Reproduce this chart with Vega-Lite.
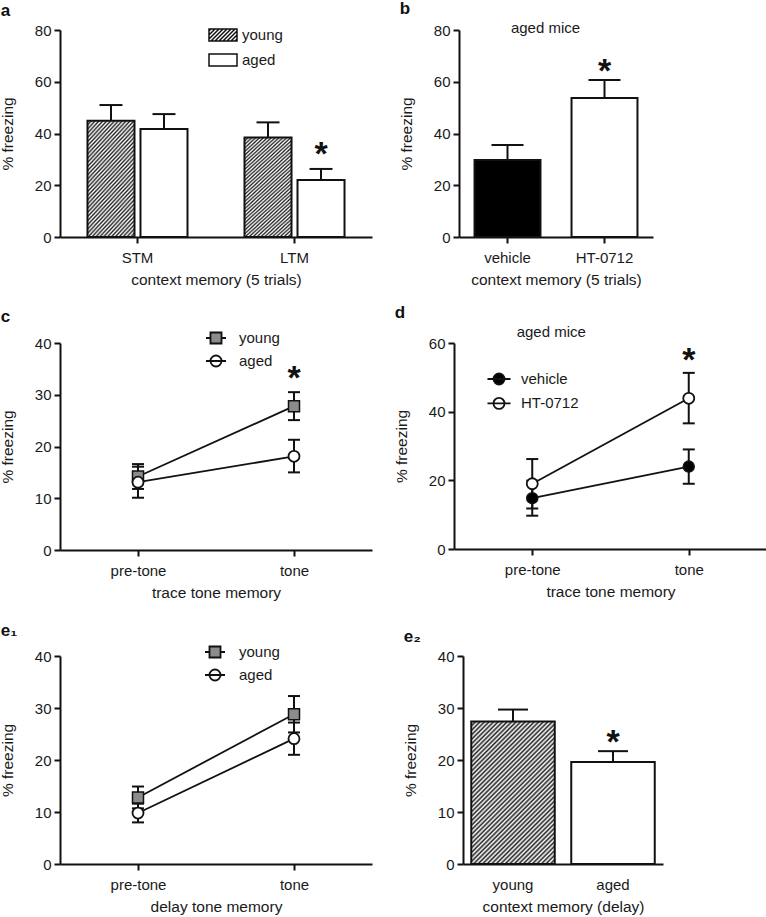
{
 "$schema": "https://vega.github.io/schema/vega-lite/v6.json",
 "padding": 0,
 "background": "white",
 "config": {
  "font": "Liberation Sans",
  "view": {"stroke": null},
  "axis": {"grid": false, "domainColor": "#111", "domainWidth": 2, "tickColor": "#111", "tickWidth": 2, "tickSize": 6, "labelFontSize": 15, "labelColor": "#1a1a1a", "titleFontSize": 15.5, "titleFontWeight": "normal", "titleColor": "#1a1a1a", "labelPadding": 3, "titlePadding": 8},
  "axisX": {"labelAngle": 0, "labelPadding": 7, "titlePadding": 7},
  "axisY": {"titlePadding": 18.5},
  "title": {"fontSize": 17, "fontWeight": "bold", "anchor": "start", "frame": "bounds", "color": "#111", "offset": 3},
  "legend": {"orient": "none", "title": null, "padding": 0, "labelFontSize": 15, "labelColor": "#1a1a1a", "symbolStrokeColor": "#111", "symbolStrokeWidth": 1.8, "symbolSize": 256, "symbolOpacity": 1, "labelLimit": 0}
 },
 "datasets": {
  "ctx5": [
   {"memory": "STM", "group": "young", "mean": 44.9, "hi": 51.0, "sig": ""},
   {"memory": "STM", "group": "aged", "mean": 41.7, "hi": 47.5, "sig": ""},
   {"memory": "LTM", "group": "young", "mean": 38.5, "hi": 44.3, "sig": ""},
   {"memory": "LTM", "group": "aged", "mean": 22.0, "hi": 26.3, "sig": "*"}
  ],
  "ctxDrug": [
   {"treatment": "vehicle", "mean": 29.8, "hi": 35.6, "sig": ""},
   {"treatment": "HT-0712", "mean": 53.7, "hi": 60.7, "sig": "*"}
  ],
  "traceAge": [
   {"phase": "pre-tone", "group": "young", "mean": 14.2, "lo": 11.8, "hi": 16.6, "sig": ""},
   {"phase": "pre-tone", "group": "aged", "mean": 13.1, "lo": 10.1, "hi": 16.1, "sig": ""},
   {"phase": "tone", "group": "young", "mean": 27.8, "lo": 25.1, "hi": 30.5, "sig": "*"},
   {"phase": "tone", "group": "aged", "mean": 18.1, "lo": 15.0, "hi": 21.3, "sig": ""}
  ],
  "traceDrug": [
   {"phase": "pre-tone", "treatment": "vehicle", "mean": 14.8, "lo": 9.7, "hi": 19.9, "sig": ""},
   {"phase": "pre-tone", "treatment": "HT-0712", "mean": 19.0, "lo": 11.8, "hi": 26.2, "sig": ""},
   {"phase": "tone", "treatment": "vehicle", "mean": 24.0, "lo": 19.0, "hi": 29.0, "sig": ""},
   {"phase": "tone", "treatment": "HT-0712", "mean": 43.9, "lo": 36.6, "hi": 51.3, "sig": "*"}
  ],
  "delayAge": [
   {"phase": "pre-tone", "group": "young", "mean": 12.8, "lo": 10.7, "hi": 14.9},
   {"phase": "pre-tone", "group": "aged", "mean": 9.8, "lo": 8.0, "hi": 11.6},
   {"phase": "tone", "group": "young", "mean": 28.8, "lo": 25.3, "hi": 32.3},
   {"phase": "tone", "group": "aged", "mean": 24.1, "lo": 21.0, "hi": 27.2}
  ],
  "ctxDelay": [
   {"group": "young", "mean": 27.4, "hi": 29.7, "sig": ""},
   {"group": "aged", "mean": 19.6, "hi": 21.7, "sig": "*"}
  ]
 },
 "spacing": 16,
 "resolve": {"scale": {"fill": "independent", "shape": "independent", "stroke": "independent"}, "legend": {"fill": "independent", "shape": "independent", "stroke": "independent"}},
 "vconcat": [
  {
   "spacing": 27,
   "resolve": {"scale": {"fill": "independent", "shape": "independent", "stroke": "independent"}, "legend": {"fill": "independent", "shape": "independent", "stroke": "independent"}},
   "hconcat": [
    {
     "title": "a",
     "width": 312, "height": 207,
     "data": {"name": "ctx5"},
     "encoding": {
      "x": {"field": "memory", "type": "nominal", "sort": ["STM", "LTM"], "scale": {"paddingInner": 0.363, "paddingOuter": 0.175}, "axis": {"title": "context memory (5 trials)"}},
      "xOffset": {"field": "group", "type": "nominal", "sort": ["young", "aged"], "scale": {"domain": ["young", "aged"], "paddingInner": 0.113, "paddingOuter": 0}}
     },
     "layer": [
      {"mark": {"type": "rule", "color": "#111", "strokeWidth": 2}, "encoding": {"y": {"field": "mean", "type": "quantitative", "scale": {"domain": [0, 80], "nice": false}, "axis": {"values": [0, 20, 40, 60, 80], "title": "% freezing"}}, "y2": {"field": "hi"}}},
      {"mark": {"type": "tick", "color": "#111", "thickness": 2, "size": 23, "opacity": 1}, "encoding": {"y": {"field": "hi", "type": "quantitative", "axis": {"title": "% freezing"}}}},
      {"transform": [{"filter": "datum.group === 'aged'"}], "mark": {"type": "bar", "fill": "white", "stroke": "#111", "strokeWidth": 2, "opacity": 1}, "encoding": {"y": {"field": "mean", "type": "quantitative", "axis": {"title": "% freezing"}}}},
      {"transform": [{"filter": "datum.group === 'young'"}], "mark": {"type": "bar", "stroke": "#111", "strokeWidth": 2, "opacity": 1,
        "fill": {"gradient": "linear", "x1": 0, "y1": 0, "x2": 0.525, "y2": 1.207, "stops": [
         {"offset": 0, "color": "#222"}, {"offset": 0.0125, "color": "#fff"}, {"offset": 0.025, "color": "#222"}, {"offset": 0.0375, "color": "#fff"}, {"offset": 0.05, "color": "#222"}, {"offset": 0.0625, "color": "#fff"}, {"offset": 0.075, "color": "#222"}, {"offset": 0.0875, "color": "#fff"},
         {"offset": 0.1, "color": "#222"}, {"offset": 0.1125, "color": "#fff"}, {"offset": 0.125, "color": "#222"}, {"offset": 0.1375, "color": "#fff"}, {"offset": 0.15, "color": "#222"}, {"offset": 0.1625, "color": "#fff"}, {"offset": 0.175, "color": "#222"}, {"offset": 0.1875, "color": "#fff"},
         {"offset": 0.2, "color": "#222"}, {"offset": 0.2125, "color": "#fff"}, {"offset": 0.225, "color": "#222"}, {"offset": 0.2375, "color": "#fff"}, {"offset": 0.25, "color": "#222"}, {"offset": 0.2625, "color": "#fff"}, {"offset": 0.275, "color": "#222"}, {"offset": 0.2875, "color": "#fff"},
         {"offset": 0.3, "color": "#222"}, {"offset": 0.3125, "color": "#fff"}, {"offset": 0.325, "color": "#222"}, {"offset": 0.3375, "color": "#fff"}, {"offset": 0.35, "color": "#222"}, {"offset": 0.3625, "color": "#fff"}, {"offset": 0.375, "color": "#222"}, {"offset": 0.3875, "color": "#fff"},
         {"offset": 0.4, "color": "#222"}, {"offset": 0.4125, "color": "#fff"}, {"offset": 0.425, "color": "#222"}, {"offset": 0.4375, "color": "#fff"}, {"offset": 0.45, "color": "#222"}, {"offset": 0.4625, "color": "#fff"}, {"offset": 0.475, "color": "#222"}, {"offset": 0.4875, "color": "#fff"},
         {"offset": 0.5, "color": "#222"}, {"offset": 0.5125, "color": "#fff"}, {"offset": 0.525, "color": "#222"}, {"offset": 0.5375, "color": "#fff"}, {"offset": 0.55, "color": "#222"}, {"offset": 0.5625, "color": "#fff"}, {"offset": 0.575, "color": "#222"}, {"offset": 0.5875, "color": "#fff"},
         {"offset": 0.6, "color": "#222"}, {"offset": 0.6125, "color": "#fff"}, {"offset": 0.625, "color": "#222"}, {"offset": 0.6375, "color": "#fff"}, {"offset": 0.65, "color": "#222"}, {"offset": 0.6625, "color": "#fff"}, {"offset": 0.675, "color": "#222"}, {"offset": 0.6875, "color": "#fff"},
         {"offset": 0.7, "color": "#222"}, {"offset": 0.7125, "color": "#fff"}, {"offset": 0.725, "color": "#222"}, {"offset": 0.7375, "color": "#fff"}, {"offset": 0.75, "color": "#222"}, {"offset": 0.7625, "color": "#fff"}, {"offset": 0.775, "color": "#222"}, {"offset": 0.7875, "color": "#fff"},
         {"offset": 0.8, "color": "#222"}, {"offset": 0.8125, "color": "#fff"}, {"offset": 0.825, "color": "#222"}, {"offset": 0.8375, "color": "#fff"}, {"offset": 0.85, "color": "#222"}, {"offset": 0.8625, "color": "#fff"}, {"offset": 0.875, "color": "#222"}, {"offset": 0.8875, "color": "#fff"},
         {"offset": 0.9, "color": "#222"}, {"offset": 0.9125, "color": "#fff"}, {"offset": 0.925, "color": "#222"}, {"offset": 0.9375, "color": "#fff"}, {"offset": 0.95, "color": "#222"}, {"offset": 0.9625, "color": "#fff"}, {"offset": 0.975, "color": "#222"}, {"offset": 0.9875, "color": "#fff"},
         {"offset": 1, "color": "#222"}]}},
       "encoding": {"y": {"field": "mean", "type": "quantitative", "axis": {"title": "% freezing"}}}},
      {"transform": [{"filter": "datum.sig === '*'"}], "mark": {"type": "text", "fontSize": 34, "fontWeight": "bold", "baseline": "alphabetic", "dy": -3.7, "color": "#111"}, "encoding": {"y": {"field": "hi", "type": "quantitative", "axis": {"title": "% freezing"}}, "text": {"field": "sig"}}},
      {"transform": [{"filter": "false"}], "mark": {"type": "point", "filled": true, "fill": "white", "opacity": 1, "strokeWidth": 1.5, "size": 256},
       "encoding": {
        "shape": {"field": "group", "type": "nominal", "scale": {"domain": ["young", "aged"], "range": [
         "M-1.75,-0.75H1.75V0.75H-1.75ZM-1.75,-0.5L-1.5,-0.75M-1.75,0L-1,-0.75M-1.75,0.5L-0.5,-0.75M-1.5,0.75L0,-0.75M-1,0.75L0.5,-0.75M-0.5,0.75L1,-0.75M0,0.75L1.5,-0.75M0.5,0.75L1.75,-0.5M1,0.75L1.75,0M1.5,0.75L1.75,0.5",
         "M-1.75,-0.75H1.75V0.75H-1.75Z"]},
         "legend": {"legendX": 154, "legendY": -4, "rowPadding": 7, "labelOffset": 10, "symbolStrokeWidth": 1.5, "symbolFillColor": "white"}},
        "stroke": {"field": "group", "type": "nominal", "scale": {"domain": ["young", "aged"], "range": ["#111", "#111"]},
         "legend": {"legendX": 154, "legendY": -4, "rowPadding": 7, "labelOffset": 10, "symbolStrokeWidth": 1.5, "symbolFillColor": "white"}}}}
     ]
    },
    {
     "title": "b",
     "width": 194, "height": 207,
     "data": {"name": "ctxDrug"},
     "encoding": {
      "x": {"field": "treatment", "type": "nominal", "sort": ["vehicle", "HT-0712"], "scale": {"paddingInner": 0.32, "paddingOuter": 0.16}, "axis": {"title": "context memory (5 trials)"}}
     },
     "layer": [
      {"mark": {"type": "rule", "color": "#111", "strokeWidth": 2}, "encoding": {"y": {"field": "mean", "type": "quantitative", "scale": {"domain": [0, 80], "nice": false}, "axis": {"values": [0, 20, 40, 60, 80], "title": "% freezing"}}, "y2": {"field": "hi"}}},
      {"mark": {"type": "tick", "color": "#111", "thickness": 2, "size": 32, "opacity": 1}, "encoding": {"y": {"field": "hi", "type": "quantitative", "axis": {"title": "% freezing"}}}},
      {"transform": [{"filter": "datum.treatment === 'vehicle'"}], "mark": {"type": "bar", "fill": "#000", "stroke": "#111", "strokeWidth": 2, "opacity": 1}, "encoding": {"y": {"field": "mean", "type": "quantitative", "axis": {"title": "% freezing"}}}},
      {"transform": [{"filter": "datum.treatment === 'HT-0712'"}], "mark": {"type": "bar", "fill": "white", "stroke": "#111", "strokeWidth": 2, "opacity": 1}, "encoding": {"y": {"field": "mean", "type": "quantitative", "axis": {"title": "% freezing"}}}},
      {"transform": [{"filter": "datum.sig === '*'"}], "mark": {"type": "text", "fontSize": 34, "fontWeight": "bold", "baseline": "alphabetic", "dy": 1.7, "color": "#111"}, "encoding": {"y": {"field": "hi", "type": "quantitative", "axis": {"title": "% freezing"}}, "text": {"field": "sig"}}},
      {"data": {"values": [{}]}, "mark": {"type": "text", "text": "aged mice", "fontSize": 15, "baseline": "middle", "dx": 38, "dy": -2, "color": "#1a1a1a"}, "encoding": {"x": {"datum": "vehicle"}, "y": {"datum": 80}}}
     ]
    }
   ]
  },
  {
   "spacing": 21,
   "resolve": {"scale": {"fill": "independent", "shape": "independent", "stroke": "independent"}, "legend": {"fill": "independent", "shape": "independent", "stroke": "independent"}},
   "vconcat": [
    {
     "spacing": 22,
     "resolve": {"scale": {"fill": "independent", "shape": "independent", "stroke": "independent"}, "legend": {"fill": "independent", "shape": "independent", "stroke": "independent"}},
     "hconcat": [
      {
       "title": "c",
       "width": 312, "height": 207,
       "data": {"name": "traceAge"},
       "encoding": {
        "x": {"field": "phase", "type": "nominal", "scale": {"type": "point", "padding": 0.5, "domain": ["pre-tone", "tone"]}, "axis": {"title": "trace tone memory"}}
       },
       "layer": [
        {"mark": {"type": "rule", "color": "#111", "strokeWidth": 2}, "encoding": {"y": {"field": "lo", "type": "quantitative", "scale": {"domain": [0, 40], "nice": false}, "axis": {"values": [0, 10, 20, 30, 40], "title": "% freezing"}}, "y2": {"field": "hi"}}},
        {"mark": {"type": "tick", "color": "#111", "thickness": 2, "size": 12, "opacity": 1}, "encoding": {"y": {"field": "lo", "type": "quantitative", "axis": {"title": "% freezing"}}}},
        {"mark": {"type": "tick", "color": "#111", "thickness": 2, "size": 12, "opacity": 1}, "encoding": {"y": {"field": "hi", "type": "quantitative", "axis": {"title": "% freezing"}}}},
        {"mark": {"type": "line", "color": "#111", "strokeWidth": 1.8}, "encoding": {"y": {"field": "mean", "type": "quantitative", "axis": {"title": "% freezing"}}, "detail": {"field": "group"}}},
        {"transform": [{"filter": "datum.group === 'young'"}], "mark": {"type": "point", "shape": "square", "filled": true, "fill": "#8c8c8c", "stroke": "#111", "strokeWidth": 1.5, "size": 121, "opacity": 1}, "encoding": {"y": {"field": "mean", "type": "quantitative", "axis": {"title": "% freezing"}}}},
        {"transform": [{"filter": "datum.group === 'aged'"}], "mark": {"type": "point", "shape": "circle", "filled": true, "fill": "white", "stroke": "#111", "strokeWidth": 1.8, "size": 121, "opacity": 1}, "encoding": {"y": {"field": "mean", "type": "quantitative", "axis": {"title": "% freezing"}}}},
        {"transform": [{"filter": "datum.sig === '*'"}], "mark": {"type": "text", "fontSize": 34, "fontWeight": "bold", "baseline": "alphabetic", "dy": -3, "color": "#111"}, "encoding": {"y": {"field": "hi", "type": "quantitative", "axis": {"title": "% freezing"}}, "text": {"field": "sig"}}},
        {"transform": [{"filter": "false"}], "mark": {"type": "point", "filled": true, "opacity": 1, "strokeWidth": 1.8, "size": 256},
         "encoding": {
          "fill": {"field": "group", "type": "nominal", "scale": {"domain": ["young", "aged"], "range": ["#8c8c8c", "white"]}, "legend": {"legendX": 147, "legendY": -14, "rowPadding": 3, "labelOffset": 14}},
          "stroke": {"field": "group", "type": "nominal", "scale": {"domain": ["young", "aged"], "range": ["#111", "#111"]}, "legend": {"legendX": 147, "legendY": -14, "rowPadding": 3, "labelOffset": 14}},
          "shape": {"field": "group", "type": "nominal", "scale": {"domain": ["young", "aged"], "range": ["M-1.25,0H-0.69M0.69,0H1.25M-0.69,-0.69H0.69V0.69H-0.69Z", "M-1.25,0H1.25M-0.69,0A0.69,0.69,0,1,0,0.69,0A0.69,0.69,0,1,0,-0.69,0Z"]}, "legend": {"legendX": 147, "legendY": -14, "rowPadding": 3, "labelOffset": 14}}}}
       ]
      },
      {
       "title": "d",
       "width": 313, "height": 206,
       "data": {"name": "traceDrug"},
       "encoding": {
        "x": {"field": "phase", "type": "nominal", "scale": {"type": "point", "padding": 0.5, "domain": ["pre-tone", "tone"]}, "axis": {"title": "trace tone memory"}}
       },
       "layer": [
        {"mark": {"type": "rule", "color": "#111", "strokeWidth": 2}, "encoding": {"y": {"field": "lo", "type": "quantitative", "scale": {"domain": [0, 60], "nice": false}, "axis": {"values": [0, 10, 20, 30, 40, 50, 60], "title": "% freezing"}}, "y2": {"field": "hi"}}},
        {"mark": {"type": "tick", "color": "#111", "thickness": 2, "size": 12, "opacity": 1}, "encoding": {"y": {"field": "lo", "type": "quantitative", "axis": {"title": "% freezing"}}}},
        {"mark": {"type": "tick", "color": "#111", "thickness": 2, "size": 12, "opacity": 1}, "encoding": {"y": {"field": "hi", "type": "quantitative", "axis": {"title": "% freezing"}}}},
        {"mark": {"type": "line", "color": "#111", "strokeWidth": 1.8}, "encoding": {"y": {"field": "mean", "type": "quantitative", "axis": {"title": "% freezing"}}, "detail": {"field": "treatment"}}},
        {"transform": [{"filter": "datum.treatment === 'vehicle'"}], "mark": {"type": "point", "shape": "circle", "filled": true, "fill": "#000", "stroke": "#111", "strokeWidth": 1.5, "size": 121, "opacity": 1}, "encoding": {"y": {"field": "mean", "type": "quantitative", "axis": {"title": "% freezing"}}}},
        {"transform": [{"filter": "datum.treatment === 'HT-0712'"}], "mark": {"type": "point", "shape": "circle", "filled": true, "fill": "white", "stroke": "#111", "strokeWidth": 1.8, "size": 121, "opacity": 1}, "encoding": {"y": {"field": "mean", "type": "quantitative", "axis": {"title": "% freezing"}}}},
        {"transform": [{"filter": "datum.sig === '*'"}], "mark": {"type": "text", "fontSize": 34, "fontWeight": "bold", "baseline": "alphabetic", "dy": -1.6, "color": "#111"}, "encoding": {"y": {"field": "hi", "type": "quantitative", "axis": {"title": "% freezing"}}, "text": {"field": "sig"}}},
        {"data": {"values": [{}]}, "mark": {"type": "text", "text": "aged mice", "fontSize": 15, "baseline": "middle", "dx": 19, "dy": -11, "color": "#1a1a1a"}, "encoding": {"x": {"datum": "pre-tone"}, "y": {"datum": 60}}},
        {"transform": [{"filter": "false"}], "mark": {"type": "point", "filled": true, "opacity": 1, "stroke": "#111", "strokeWidth": 1.8, "size": 256},
         "encoding": {
          "fill": {"field": "treatment", "type": "nominal", "scale": {"domain": ["vehicle", "HT-0712"], "range": ["#000", "white"]}, "legend": {"legendX": 36, "legendY": 27, "rowPadding": 4.4, "labelOffset": 13, "symbolType": "M-1.44,0H1.44M-0.69,0A0.69,0.69,0,1,0,0.69,0A0.69,0.69,0,1,0,-0.69,0Z"}}}}
       ]
      }
     ]
    },
    {
     "spacing": 31,
     "resolve": {"scale": {"fill": "independent", "shape": "independent", "stroke": "independent"}, "legend": {"fill": "independent", "shape": "independent", "stroke": "independent"}},
     "hconcat": [
      {
       "title": "e₁",
       "width": 312, "height": 208,
       "data": {"name": "delayAge"},
       "encoding": {
        "x": {"field": "phase", "type": "nominal", "scale": {"type": "point", "padding": 0.5, "domain": ["pre-tone", "tone"]}, "axis": {"title": "delay tone memory"}}
       },
       "layer": [
        {"mark": {"type": "rule", "color": "#111", "strokeWidth": 2}, "encoding": {"y": {"field": "lo", "type": "quantitative", "scale": {"domain": [0, 40], "nice": false}, "axis": {"values": [0, 10, 20, 30, 40], "title": "% freezing"}}, "y2": {"field": "hi"}}},
        {"mark": {"type": "tick", "color": "#111", "thickness": 2, "size": 12, "opacity": 1}, "encoding": {"y": {"field": "lo", "type": "quantitative", "axis": {"title": "% freezing"}}}},
        {"mark": {"type": "tick", "color": "#111", "thickness": 2, "size": 12, "opacity": 1}, "encoding": {"y": {"field": "hi", "type": "quantitative", "axis": {"title": "% freezing"}}}},
        {"mark": {"type": "line", "color": "#111", "strokeWidth": 1.8}, "encoding": {"y": {"field": "mean", "type": "quantitative", "axis": {"title": "% freezing"}}, "detail": {"field": "group"}}},
        {"transform": [{"filter": "datum.group === 'young'"}], "mark": {"type": "point", "shape": "square", "filled": true, "fill": "#8c8c8c", "stroke": "#111", "strokeWidth": 1.5, "size": 121, "opacity": 1}, "encoding": {"y": {"field": "mean", "type": "quantitative", "axis": {"title": "% freezing"}}}},
        {"transform": [{"filter": "datum.group === 'aged'"}], "mark": {"type": "point", "shape": "circle", "filled": true, "fill": "white", "stroke": "#111", "strokeWidth": 1.8, "size": 121, "opacity": 1}, "encoding": {"y": {"field": "mean", "type": "quantitative", "axis": {"title": "% freezing"}}}},
        {"transform": [{"filter": "false"}], "mark": {"type": "point", "filled": true, "opacity": 1, "strokeWidth": 1.8, "size": 256},
         "encoding": {
          "fill": {"field": "group", "type": "nominal", "scale": {"domain": ["young", "aged"], "range": ["#8c8c8c", "white"]}, "legend": {"legendX": 146, "legendY": -13, "rowPadding": 3, "labelOffset": 15}},
          "stroke": {"field": "group", "type": "nominal", "scale": {"domain": ["young", "aged"], "range": ["#111", "#111"]}, "legend": {"legendX": 146, "legendY": -13, "rowPadding": 3, "labelOffset": 15}},
          "shape": {"field": "group", "type": "nominal", "scale": {"domain": ["young", "aged"], "range": ["M-1.25,0H-0.69M0.69,0H1.25M-0.69,-0.69H0.69V0.69H-0.69Z", "M-1.25,0H1.25M-0.69,0A0.69,0.69,0,1,0,0.69,0A0.69,0.69,0,1,0,-0.69,0Z"]}, "legend": {"legendX": 146, "legendY": -13, "rowPadding": 3, "labelOffset": 15}}}}
       ]
      },
      {
       "title": "e₂",
       "width": 200, "height": 208,
       "data": {"name": "ctxDelay"},
       "encoding": {
        "x": {"field": "group", "type": "nominal", "sort": ["young", "aged"], "scale": {"paddingInner": 0.165, "paddingOuter": 0.0825}, "axis": {"title": "context memory (delay)", "ticks": false, "labelPadding": 13}}
       },
       "layer": [
        {"mark": {"type": "rule", "color": "#111", "strokeWidth": 2}, "encoding": {"y": {"field": "mean", "type": "quantitative", "scale": {"domain": [0, 40], "nice": false}, "axis": {"values": [0, 10, 20, 30, 40], "title": "% freezing"}}, "y2": {"field": "hi"}}},
        {"mark": {"type": "tick", "color": "#111", "thickness": 2, "size": 30, "opacity": 1}, "encoding": {"y": {"field": "hi", "type": "quantitative", "axis": {"title": "% freezing"}}}},
        {"transform": [{"filter": "datum.group === 'aged'"}], "mark": {"type": "bar", "fill": "white", "stroke": "#111", "strokeWidth": 2, "opacity": 1}, "encoding": {"y": {"field": "mean", "type": "quantitative", "axis": {"title": "% freezing"}}}},
        {"transform": [{"filter": "datum.group === 'young'"}], "mark": {"type": "bar", "stroke": "#111", "strokeWidth": 2, "opacity": 1,
          "fill": {"gradient": "linear", "x1": 0, "y1": 0, "x2": 0.692, "y2": 1.181, "stops": [
           {"offset": 0, "color": "#222"}, {"offset": 0.01, "color": "#fff"}, {"offset": 0.02, "color": "#222"}, {"offset": 0.03, "color": "#fff"}, {"offset": 0.04, "color": "#222"}, {"offset": 0.05, "color": "#fff"}, {"offset": 0.06, "color": "#222"}, {"offset": 0.07, "color": "#fff"}, {"offset": 0.08, "color": "#222"}, {"offset": 0.09, "color": "#fff"},
           {"offset": 0.1, "color": "#222"}, {"offset": 0.11, "color": "#fff"}, {"offset": 0.12, "color": "#222"}, {"offset": 0.13, "color": "#fff"}, {"offset": 0.14, "color": "#222"}, {"offset": 0.15, "color": "#fff"}, {"offset": 0.16, "color": "#222"}, {"offset": 0.17, "color": "#fff"}, {"offset": 0.18, "color": "#222"}, {"offset": 0.19, "color": "#fff"},
           {"offset": 0.2, "color": "#222"}, {"offset": 0.21, "color": "#fff"}, {"offset": 0.22, "color": "#222"}, {"offset": 0.23, "color": "#fff"}, {"offset": 0.24, "color": "#222"}, {"offset": 0.25, "color": "#fff"}, {"offset": 0.26, "color": "#222"}, {"offset": 0.27, "color": "#fff"}, {"offset": 0.28, "color": "#222"}, {"offset": 0.29, "color": "#fff"},
           {"offset": 0.3, "color": "#222"}, {"offset": 0.31, "color": "#fff"}, {"offset": 0.32, "color": "#222"}, {"offset": 0.33, "color": "#fff"}, {"offset": 0.34, "color": "#222"}, {"offset": 0.35, "color": "#fff"}, {"offset": 0.36, "color": "#222"}, {"offset": 0.37, "color": "#fff"}, {"offset": 0.38, "color": "#222"}, {"offset": 0.39, "color": "#fff"},
           {"offset": 0.4, "color": "#222"}, {"offset": 0.41, "color": "#fff"}, {"offset": 0.42, "color": "#222"}, {"offset": 0.43, "color": "#fff"}, {"offset": 0.44, "color": "#222"}, {"offset": 0.45, "color": "#fff"}, {"offset": 0.46, "color": "#222"}, {"offset": 0.47, "color": "#fff"}, {"offset": 0.48, "color": "#222"}, {"offset": 0.49, "color": "#fff"},
           {"offset": 0.5, "color": "#222"}, {"offset": 0.51, "color": "#fff"}, {"offset": 0.52, "color": "#222"}, {"offset": 0.53, "color": "#fff"}, {"offset": 0.54, "color": "#222"}, {"offset": 0.55, "color": "#fff"}, {"offset": 0.56, "color": "#222"}, {"offset": 0.57, "color": "#fff"}, {"offset": 0.58, "color": "#222"}, {"offset": 0.59, "color": "#fff"},
           {"offset": 0.6, "color": "#222"}, {"offset": 0.61, "color": "#fff"}, {"offset": 0.62, "color": "#222"}, {"offset": 0.63, "color": "#fff"}, {"offset": 0.64, "color": "#222"}, {"offset": 0.65, "color": "#fff"}, {"offset": 0.66, "color": "#222"}, {"offset": 0.67, "color": "#fff"}, {"offset": 0.68, "color": "#222"}, {"offset": 0.69, "color": "#fff"},
           {"offset": 0.7, "color": "#222"}, {"offset": 0.71, "color": "#fff"}, {"offset": 0.72, "color": "#222"}, {"offset": 0.73, "color": "#fff"}, {"offset": 0.74, "color": "#222"}, {"offset": 0.75, "color": "#fff"}, {"offset": 0.76, "color": "#222"}, {"offset": 0.77, "color": "#fff"}, {"offset": 0.78, "color": "#222"}, {"offset": 0.79, "color": "#fff"},
           {"offset": 0.8, "color": "#222"}, {"offset": 0.81, "color": "#fff"}, {"offset": 0.82, "color": "#222"}, {"offset": 0.83, "color": "#fff"}, {"offset": 0.84, "color": "#222"}, {"offset": 0.85, "color": "#fff"}, {"offset": 0.86, "color": "#222"}, {"offset": 0.87, "color": "#fff"}, {"offset": 0.88, "color": "#222"}, {"offset": 0.89, "color": "#fff"},
           {"offset": 0.9, "color": "#222"}, {"offset": 0.91, "color": "#fff"}, {"offset": 0.92, "color": "#222"}, {"offset": 0.93, "color": "#fff"}, {"offset": 0.94, "color": "#222"}, {"offset": 0.95, "color": "#fff"}, {"offset": 0.96, "color": "#222"}, {"offset": 0.97, "color": "#fff"}, {"offset": 0.98, "color": "#222"}, {"offset": 0.99, "color": "#fff"},
           {"offset": 1, "color": "#222"}]}},
         "encoding": {"y": {"field": "mean", "type": "quantitative", "axis": {"title": "% freezing"}}}},
        {"transform": [{"filter": "datum.sig === '*'"}], "mark": {"type": "text", "fontSize": 34, "fontWeight": "bold", "baseline": "alphabetic", "dy": 1.4, "color": "#111"}, "encoding": {"y": {"field": "hi", "type": "quantitative", "axis": {"title": "% freezing"}}, "text": {"field": "sig"}}}
       ]
      }
     ]
    }
   ]
  }
 ]
}
